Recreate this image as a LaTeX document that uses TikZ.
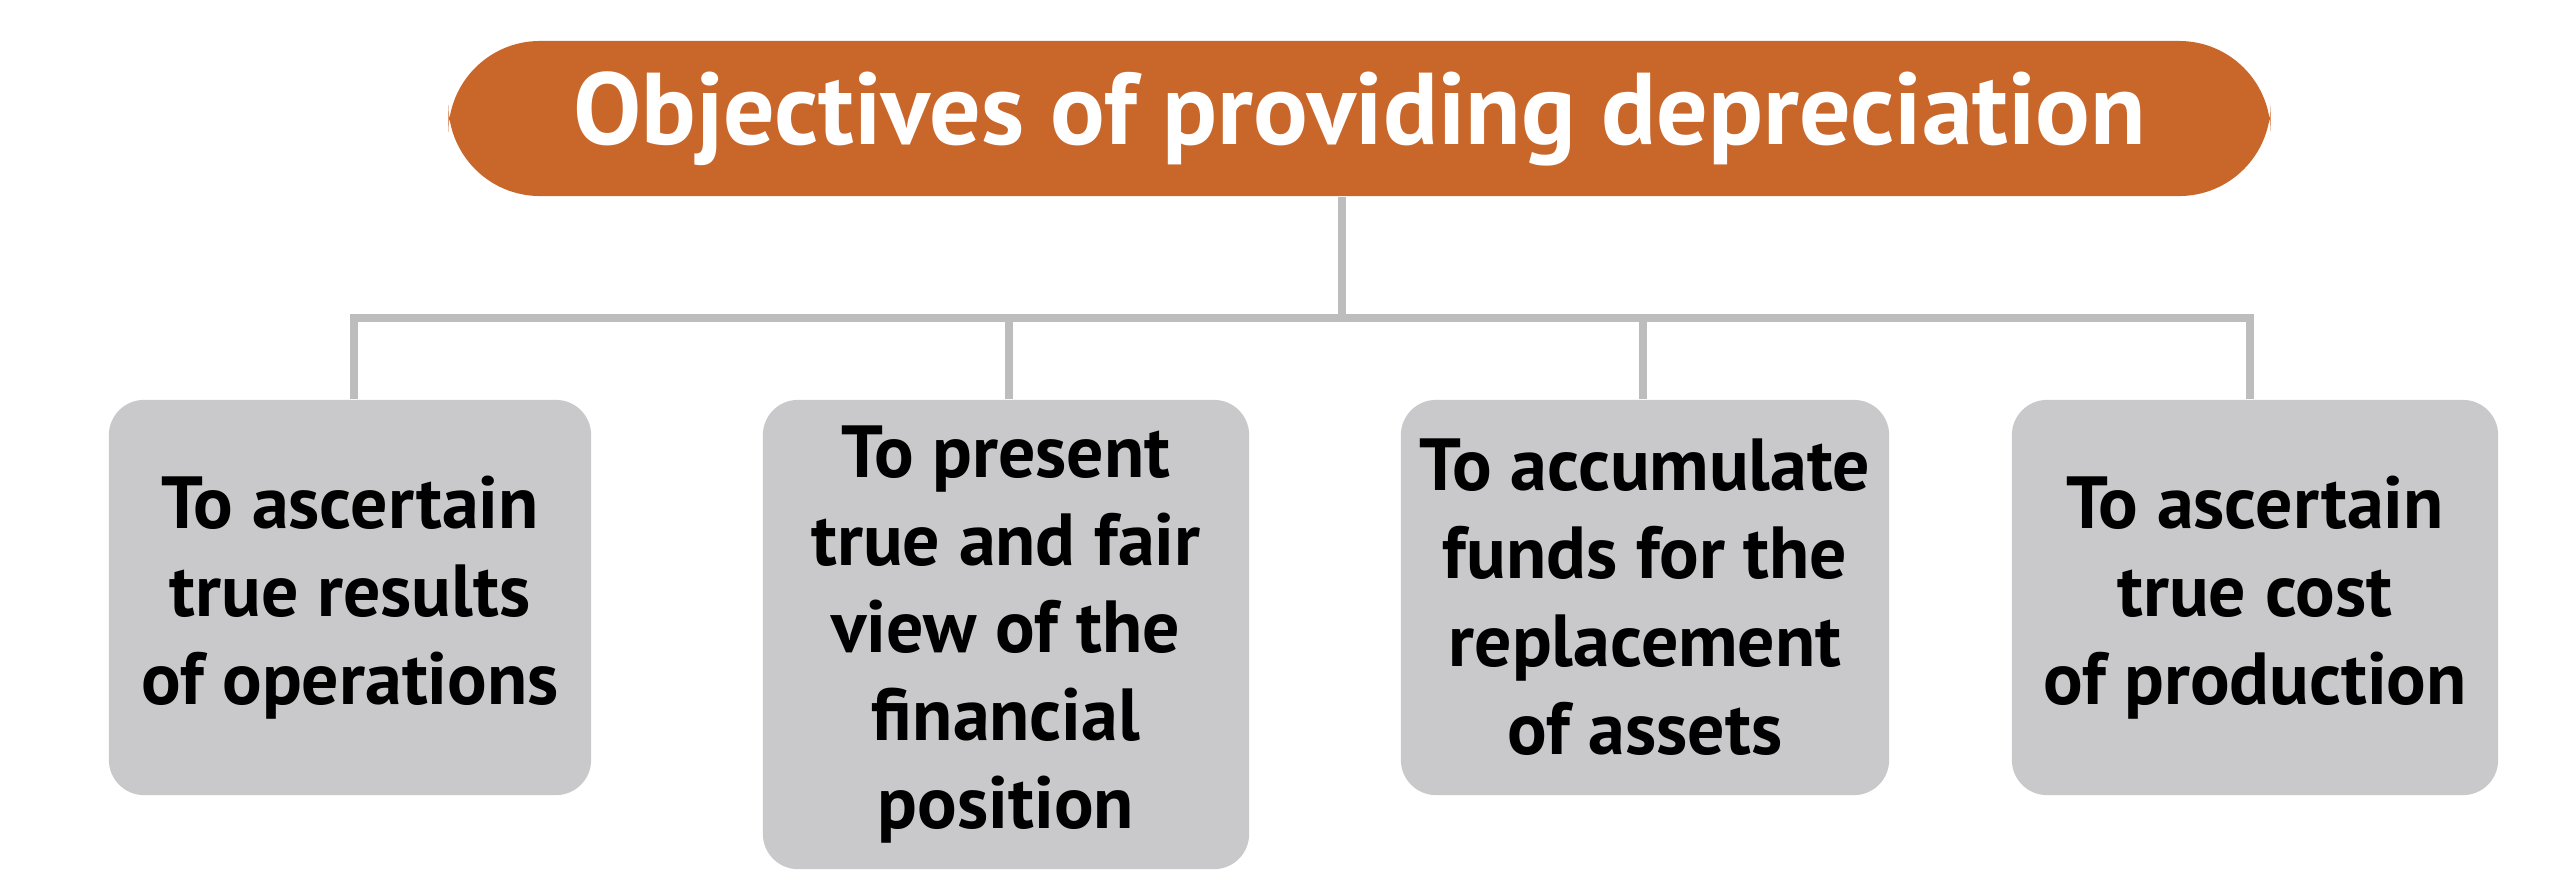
\documentclass[tikz,border=0pt]{standalone}
\usepackage{fontspec}
\setmainfont{PT Sans}
\definecolor{orng}{HTML}{C9672B}
\definecolor{boxg}{HTML}{C9C9CB}
\definecolor{linec}{HTML}{BDBDBD}
\begin{document}
\begin{tikzpicture}[x=0.01cm,y=-0.01cm,
  box/.style={fill=boxg,rounded corners=10pt,inner sep=0pt,align=center,font=\fontsize{21}{25}\selectfont\bfseries},
  conn/.style={draw=linec,line width=2.5pt}]
\useasboundingbox (0,0) rectangle (2560,893);
\node[fill=orng,rounded corners=26pt,minimum width=1821\pgflinewidth*0+18.21cm,minimum height=1.55cm,text=white,font=\fontsize{29}{34}\selectfont\bfseries] (t) at (1359.5,118.5) {Objectives of providing depreciation};
\node[box,minimum width=4.82cm,minimum height=3.95cm] (b1) at (350,597.5) {To ascertain\\true results\\of operations};
\node[box,minimum width=4.86cm,minimum height=4.69cm] (b2) at (1006,634.5) {To present\\true and fair\\view of the\\financial\\position};
\node[box,minimum width=4.88cm,minimum height=3.95cm] (b3) at (1645,597.5) {To accumulate\\funds for the\\replacement\\of assets};
\node[box,minimum width=4.86cm,minimum height=3.95cm] (b4) at (2255,597.5) {To ascertain\\true cost\\of production};
\coordinate (h) at (1342,318);
\draw[conn] (t.south -| h) -- (h);
\draw[conn] (b1.north -| 354,0) |- (h) -| (b4.north -| 2250,0);
\draw[conn] (b2.north -| 1009,0) -- (1009,318);
\draw[conn] (b3.north -| 1643,0) -- (1643,318);
\end{tikzpicture}
\end{document}
